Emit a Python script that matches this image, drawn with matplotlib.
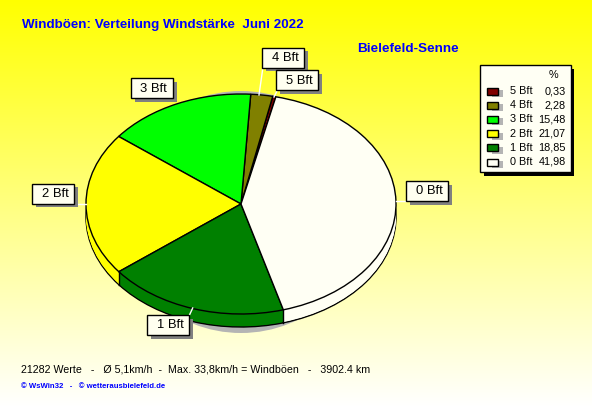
import numpy as np
import matplotlib
matplotlib.use("Agg")
import matplotlib.pyplot as plt
from matplotlib.patches import Rectangle, Ellipse
from matplotlib.colors import LinearSegmentedColormap

plt.rcParams['font.family'] = ['Liberation Sans', 'DejaVu Sans']

# Werte aus der Grafik
labels = ['5 Bft', '4 Bft', '3 Bft', '2 Bft', '1 Bft', '0 Bft']
percent = [0.33, 2.28, 15.48, 21.07, 18.85, 41.98]
percent_text = ['0,33', '2,28', '15,48', '21,07', '18,85', '41,98']
colors = ['#800000', '#808000', '#00ff00', '#ffff00', '#008000', '#fffff4']
title = 'Windböen: Verteilung Windstärke  Juni 2022'
station = 'Bielefeld-Senne'
footer = '21282 Werte   -   Ø 5,1km/h  -  Max. 33,8km/h = Windböen   -   3902.4 km'
credit = '© WsWin32   -   © wetterausbielefeld.de'

W, H = 592, 407
CX, CY, RX, RY = 241, 204, 155, 110
DEPTH = 13
START = 77  # Winkel der Grenze 0/5 Bft, matplotlib-Grad

# label box: centre x, centre y, leader start x, y, leader end x, y
callouts = {
    '0 Bft': (427, 191, 406, 201, 396, 201),
    '1 Bft': (168, 325, 189, 316, 192.7, 308),
    '2 Bft': (53, 193.5, 74, 204, 86, 204),
    '3 Bft': (151.5, 88, 172, 98, 175, 101),
    '4 Bft': (283, 57.5, 263, 67, 259, 95),
    '5 Bft': (297, 80, 278, 89, 274, 97),
}

fig = plt.figure(figsize=(W / 100, H / 100), dpi=100)
bg = fig.add_axes([0, 0, 1, 1])
bg.set_xlim(0, W)
bg.set_ylim(H, 0)
bg.axis('off')
cmap = LinearSegmentedColormap.from_list('bg', ['#ffff00', '#ffffff'])
bg.imshow(np.linspace(0, 1, 256).reshape(-1, 1), cmap=cmap, aspect='auto', extent=[0, W, H, 0], zorder=0)
# grauer Schatten, schmaler und hoeher als die Torte
bg.add_patch(Ellipse((241, 212), 250, 242, fc='#b4b4b4', ec='none', zorder=1))
bg.set_xlim(0, W)
bg.set_ylim(H, 0)


def draw_pie(ax, dy, edge=None):
    # dy in Pixel nach unten
    return ax.pie(percent, colors=colors, startangle=START, counterclock=True,
                  center=(0, -dy / RY), radius=1, frame=False,
                  wedgeprops=dict(edgecolor=edge if edge else 'none', linewidth=1.0 if edge else 0))


pie_ax = fig.add_axes([0, 0, 1, 1], facecolor='none')
pie_ax.patch.set_visible(False)
draw_pie(pie_ax, DEPTH, edge='black')
for d in range(DEPTH - 1, 0, -1):
    draw_pie(pie_ax, d)
wedges = draw_pie(pie_ax, 0, edge='black')[0]
# senkrechte Kanten der Seitenwand an den vorderen Segmentgrenzen
for w in wedges:
    a = np.deg2rad(w.theta1)
    if np.sin(a) < -0.5:
        pie_ax.plot([np.cos(a)] * 2, [np.sin(a), np.sin(a) - DEPTH / RY], color='black', lw=1.0)
# Achse so legen, dass Radius 1 = RX/RY Pixel
pie_ax.set_aspect('auto')
pie_ax.set_xlim((0 - CX) / RX, (W - CX) / RX)
pie_ax.set_ylim((CY - H) / RY, CY / RY)
pie_ax.set_axis_off()

top = fig.add_axes([0, 0, 1, 1], facecolor='none')
top.set_xlim(0, W)
top.set_ylim(H, 0)
top.axis('off')

for name, (bx, by, sx, sy, ex, ey) in callouts.items():
    top.plot([sx, ex], [sy, ey], color='white', lw=1, zorder=1)
    top.add_patch(Rectangle((bx - 21 + 4, by - 10 + 3.5), 42, 20, fc='#808080', ec='none', zorder=2))
    top.add_patch(Rectangle((bx - 21, by - 10), 42, 20, fc='#fffff0', ec='black', lw=1.0, zorder=3))
    top.text(bx + 2, by + 0.5, name, ha='center', va='center', fontsize=9.4, color='black', zorder=4)

top.text(22, 25, title, color='#0000ff', fontsize=9.6, fontweight='bold', ha='left', va='center')
top.text(357, 49, station, color='#0000ff', fontsize=9.7, fontweight='bold', ha='left', va='center')
top.text(21, 369, footer, color='black', fontsize=7.7, ha='left', va='center')
top.text(21, 386, credit, color='#0000ff', fontsize=5.6, fontweight='bold', ha='left', va='center')

# Legende
top.add_patch(Rectangle((484, 69), 90, 107, fc='black', ec='none'))
top.add_patch(Rectangle((480, 65), 91, 107, fc='#fffff4', ec='black', lw=1.0))
top.text(553, 75, '%', fontsize=7.8, ha='center', va='center')
for i, name in enumerate(labels):
    y = 91 + i * 14.2
    top.add_patch(Rectangle((492, y - 1), 11, 7, fc='#b4b4b4', ec='none'))
    top.add_patch(Rectangle((487, y - 3.5), 11, 7, fc=colors[i], ec='black', lw=1.0))
    top.text(510, y, name, fontsize=7.8, ha='left', va='center')
    top.text(566, y, percent_text[i], fontsize=7.8, ha='right', va='center')

fig.savefig('out.png', dpi=100)
